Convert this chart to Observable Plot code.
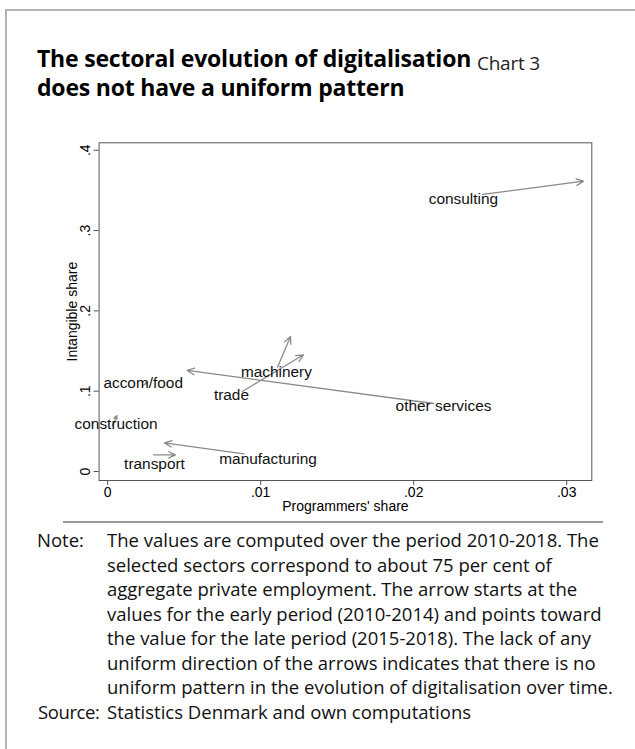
<!DOCTYPE html>
<html><head><meta charset="utf-8">
<script src="https://cdn.jsdelivr.net/npm/d3@7"></script>
<script src="https://cdn.jsdelivr.net/npm/@observablehq/plot@0.6"></script>
<style>
body{margin:0;background:#fff;width:635px;height:749px;position:relative;overflow:hidden;font-family:"Open Sans",sans-serif;}
#frameTop{position:absolute;left:5px;top:9px;width:630px;height:2px;background:#b3b3b3}
#frameLeft{position:absolute;left:5px;top:9px;width:2px;height:740px;background:#b3b3b3}
#title{position:absolute;left:37px;top:45px;font-weight:700;font-size:23px;line-height:27px;color:#000;white-space:nowrap;letter-spacing:-0.2px}
#title .sub{font-weight:400;font-size:19px;color:#222;letter-spacing:-0.2px;position:relative;top:3px}
#chart{position:absolute;left:0;top:0}
#sep{position:absolute;left:63px;top:521px;width:540px;height:2px;background:#999}
.note{position:absolute;font-size:18.5px;line-height:24.5px;color:#111;white-space:nowrap}
</style></head><body>
<div id="frameTop"></div><div id="frameLeft"></div>
<div id="title">The sectoral evolution of digitalisation <span class="sub">Chart 3</span><br>does not have a uniform pattern</div>
<div id="chart"></div>
<div id="sep"></div>
<div class="note" id="noteLbl" style="left:37px;top:528px">Note:</div>
<div class="note" id="noteBody" style="left:107px;top:528px"></div>
<div class="note" id="srcLbl" style="left:38px;top:699.5px;letter-spacing:-0.4px">Source:</div>
<div class="note" id="srcBody" style="left:107px;top:699.5px">Statistics Denmark and own computations</div>
<script>
const sectors = ["consulting","other services","machinery","trade","accom/food","construction","transport","manufacturing"];
const earlyProg   = [0.0245, 0.0213, 0.0111, 0.0088, 0.0023, 0.0003, 0.0030, 0.0089];
const earlyIntang = [0.345, 0.0847, 0.1299, 0.0996, 0.107, 0.057, 0.0208, 0.022];
const lateProg    = [0.0311, 0.0052, 0.01195, 0.0128, 0.0026, 0.0006, 0.00443, 0.00371];
const lateIntang  = [0.3615, 0.1258, 0.1681, 0.1453, 0.111, 0.0695, 0.0208, 0.0357];
const labelProg   = [0.02325, 0.02195, 0.01103, 0.00809, 0.00232, 0.00055, 0.00306, 0.01048];
const labelIntang = [0.3387, 0.081, 0.1237, 0.0955, 0.110, 0.0585, 0.0087, 0.0149];
const xTicks = [0, 0.01, 0.02, 0.03];
const xTickLabels = ["0", ".01", ".02", ".03"];
const yTicks = [0, 0.1, 0.2, 0.3, 0.4];
const yTickLabels = ["0", ".1", ".2", ".3", ".4"];
const noteLines = [
 "The values are computed over the period 2010-2018. The",
 "selected sectors correspond to about 75 per cent of",
 "aggregate private employment. The arrow starts at the",
 "values for the early period (2010-2014) and points toward",
 "the value for the late period (2015-2018). The lack of any",
 "uniform direction of the arrows indicates that there is no",
 "uniform pattern in the evolution of digitalisation over time."
];
document.getElementById("noteBody").innerHTML = noteLines.join("<br>");

const rows = sectors.map((s,i)=>({name:s, x1:earlyProg[i], y1:earlyIntang[i], x2:lateProg[i], y2:lateIntang[i], lx:labelProg[i], ly:labelIntang[i]}));

const chart = Plot.plot({
  width:635, height:520,
  marginLeft:98.6, marginRight:43.7, marginTop:142.3, marginBottom:40,
  x:{domain:[-0.00056,0.03164]},
  y:{domain:[-0.0112,0.4093]},
  style:{fontFamily:"'Liberation Sans', Arial, sans-serif", fontSize:"14px", color:"#000", background:"transparent"},
  marks:[
    Plot.frame({stroke:"#555", strokeWidth:1}),
    Plot.axisX({ticks:xTicks, tickFormat:(d)=>xTickLabels[xTicks.indexOf(d)], tickSize:5, tickPadding:2, stroke:"#555", fontSize:14,
      label:"Programmers' share", labelAnchor:"center", labelArrow:"none", labelOffset:30}),
    Plot.axisY({ticks:yTicks, tickFormat:(d)=>yTickLabels[yTicks.indexOf(d)], tickSize:5, tickPadding:4, tickRotate:-90, stroke:"#555", fontSize:14,
      label:"Intangible share", labelAnchor:"center", labelArrow:"none", labelOffset:32}),
    Plot.arrow(rows, {x1:"x1", y1:"y1", x2:"x2", y2:"y2", stroke:"#8a8a8a", strokeWidth:1.3, headLength:9, headAngle:50}),
    Plot.text(rows, {x:"lx", y:"ly", text:"name", fontSize:15.4, fill:"#111", lineAnchor:"middle"})
  ]
});
document.getElementById("chart").appendChild(chart);
</script>
</body></html>
